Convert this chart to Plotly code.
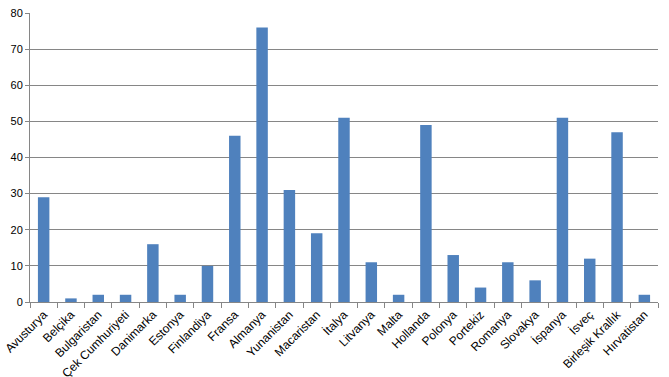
import plotly.graph_objects as go

countries = ["Avusturya", "Belçika", "Bulgaristan", "Çek Cumhuriyeti", "Danimarka", "Estonya",
             "Finlandiya", "Fransa", "Almanya", "Yunanistan", "Macaristan", "İtalya", "Litvanya",
             "Malta", "Hollanda", "Polonya", "Portekiz", "Romanya", "Slovakya", "İspanya", "İsveç",
             "Birleşik Krallık", "Hırvatistan"]
values = [29, 1, 2, 2, 16, 2, 10, 46, 76, 31, 19, 51, 11, 2, 49, 13, 4, 11, 6, 51, 12, 47, 2]
y_ticks = [0, 10, 20, 30, 40, 50, 60, 70, 80]

fig = go.Figure(go.Bar(x=countries, y=values, marker_color="#4F81BD", marker_line_width=0))
fig.update_layout(
    width=669, height=377,
    margin=dict(l=30, r=11, t=13, b=75),
    paper_bgcolor="white", plot_bgcolor="white",
    bargap=0.58, showlegend=False,
    font=dict(family="Liberation Sans", size=10, color="#000000"),
)
fig.update_xaxes(
    tickangle=-45, ticks="outside", tickson="boundaries", ticklen=5, tickcolor="#868686",
    showline=True, linecolor="#868686", linewidth=1, showgrid=False, automargin=False,
    tickfont=dict(size=12),
)
fig.update_yaxes(
    range=[0, 80], tickvals=y_ticks, showgrid=True, gridcolor="#868686", gridwidth=1,
    showline=True, linecolor="#868686", linewidth=1, ticks="outside", ticklen=4,
    tickcolor="#868686", zeroline=False, automargin=False, tickfont=dict(size=11),
)
fig.write_html("out.html")
